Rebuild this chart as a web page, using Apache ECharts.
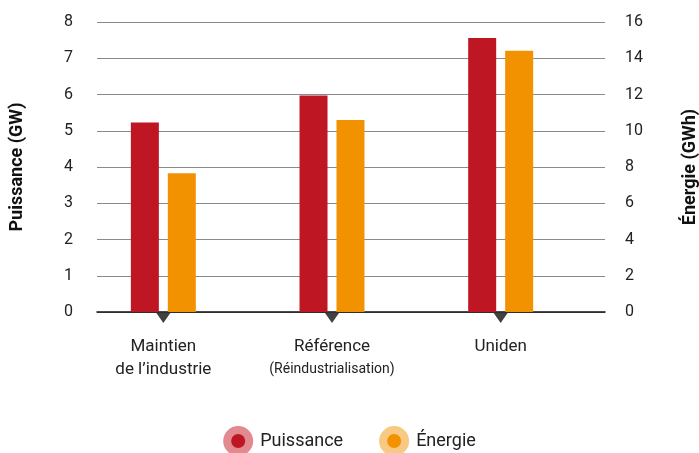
<!DOCTYPE html>
<html><head><meta charset="utf-8">
<script src="https://cdn.jsdelivr.net/npm/echarts@6/dist/echarts.min.js"></script>
<style>html,body{margin:0;padding:0;background:#fff}#c{width:699px;height:453px}</style>
</head><body><div id="c"></div>
<script>
const categories = ['Maintien\nde l’industrie', 'Référence\n{s|(Réindustrialisation)}', 'Uniden'];
const puissance = [5.23, 5.97, 7.56];
const energie = [7.66, 10.6, 14.42];
const leftTicks = [0, 8, 1];
const rightTicks = [0, 16, 2];
const FONT = 'Roboto, "Liberation Sans", sans-serif';
const chart = echarts.init(document.getElementById('c'));
chart.setOption({
  animation: false,
  textStyle: {fontFamily: FONT},
  grid: [
    {left: 97, right: 94, top: 22, bottom: 141, outerBoundsMode: 'none', containLabel: false},
    {left: 79, right: 114, top: 22, bottom: 141, outerBoundsMode: 'none', containLabel: false}
  ],
  xAxis: [
    {gridIndex: 0, type: 'value', min: 0, max: 1, axisLine: {show: true, onZero: false, lineStyle: {color: '#111', width: 1.5}}, axisTick: {show: false}, axisLabel: {show: false}, splitLine: {show: false}},
    {gridIndex: 1, type: 'category', data: categories, axisLine: {show: false}, axisTick: {show: false},
     axisLabel: {interval: 0, hideOverlap: false, margin: 23, color: '#222', fontSize: 17, lineHeight: 23, fontFamily: FONT,
       rich: {s: {fontSize: 14, color: '#222', fontFamily: FONT, lineHeight: 23}}}}
  ],
  yAxis: [
    {gridIndex: 0, type: 'value', min: leftTicks[0], max: leftTicks[1], interval: leftTicks[2], position: 'left',
     name: 'Puissance (GW)', nameLocation: 'middle', nameRotate: 90, nameGap: 71,
     nameTextStyle: {fontWeight: 'bold', fontSize: 18, color: '#111', fontFamily: FONT},
     axisLine: {show: false}, axisTick: {show: false},
     axisLabel: {margin: 24, color: '#222', fontSize: 16, fontFamily: FONT},
     splitLine: {lineStyle: {color: '#8a8a8a', width: 1}}},
    {gridIndex: 0, type: 'value', min: rightTicks[0], max: rightTicks[1], interval: rightTicks[2], position: 'right',
     name: 'Énergie (GWh)', nameLocation: 'middle', nameRotate: 90, nameGap: 76,
     nameTextStyle: {fontWeight: 'bold', fontSize: 18, color: '#111', fontFamily: FONT},
     axisLine: {show: false}, axisTick: {show: false},
     axisLabel: {margin: 20, color: '#222', fontSize: 16, fontFamily: FONT},
     splitLine: {show: false}},
    {gridIndex: 1, type: 'value', min: leftTicks[0], max: leftTicks[1], show: false, splitLine: {show: false}},
    {gridIndex: 1, type: 'value', min: rightTicks[0], max: rightTicks[1], show: false, splitLine: {show: false}}
  ],
  legend: {
    bottom: -8, left: 'center', itemWidth: 22, itemHeight: 22, itemGap: 36,
    icon: 'circle',
    textStyle: {fontSize: 18, color: '#222', fontFamily: FONT, padding: [0, 0, 0, 6]},
    data: [
      {name: 'Puissance', itemStyle: {color: '#be1622', borderColor: '#e28a90', borderWidth: 8}},
      {name: 'Énergie', itemStyle: {color: '#f39200', borderColor: '#f8c983', borderWidth: 8}}
    ]
  },
  series: [
    {name: 'Puissance', type: 'bar', xAxisIndex: 1, yAxisIndex: 2, data: puissance, barWidth: 28, barGap: '32%', itemStyle: {color: '#be1622'}},
    {name: 'Énergie', type: 'bar', xAxisIndex: 1, yAxisIndex: 3, data: energie, barWidth: 28, barGap: '32%', itemStyle: {color: '#f39200'}},
    {name: 'marks', type: 'scatter', xAxisIndex: 1, yAxisIndex: 2, data: categories.map(() => 0), symbol: 'triangle', symbolRotate: 180,
     symbolSize: [14, 10], symbolOffset: [0, 6], clip: false, silent: true, itemStyle: {color: '#111'}, z: 1}
  ]
});
</script></body></html>
